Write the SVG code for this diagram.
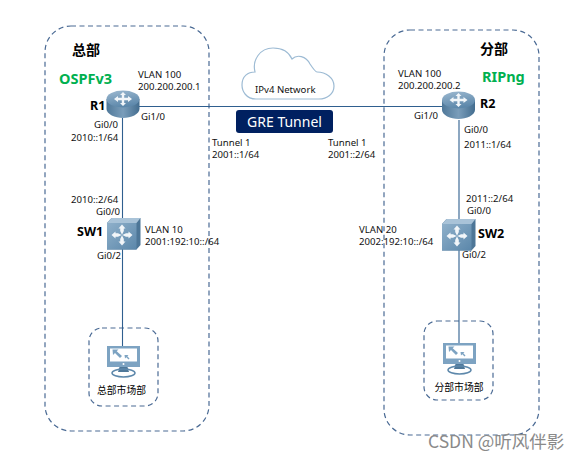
<svg xmlns="http://www.w3.org/2000/svg" width="581" height="460" viewBox="0 0 581 460">
<defs>
<linearGradient id="top" x1="0" y1="0" x2="0.3" y2="1"><stop offset="0" stop-color="#9db9d0"/><stop offset="1" stop-color="#5d88ab"/></linearGradient>
<linearGradient id="side" x1="0" y1="0" x2="1" y2="0"><stop offset="0" stop-color="#4f7899"/><stop offset="0.5" stop-color="#7a9dba"/><stop offset="1" stop-color="#436d8f"/></linearGradient>
<linearGradient id="sw" x1="0" y1="0" x2="1" y2="1"><stop offset="0" stop-color="#8fb0ca"/><stop offset="1" stop-color="#5b87aa"/></linearGradient>
<g id="router">
<path d="M-16.500,-5 V5 C-16.500,10 -8,14 0,14 C8,14 16.500,10 16.500,5 V-5 Z" fill="url(#side)"/>
<ellipse cx="0" cy="-5" rx="16.500" ry="8.500" fill="url(#top)"/>
<path d="M0,-12 L3,-9 H1.200 V-6.200 H5 V-8 L9,-5 L5,-2 V-3.800 H1.200 V-1 H3 L0,2 L-3,-1 H-1.200 V-3.800 H-5 V-2 L-9,-5 L-5,-8 V-6.200 H-1.200 V-9 H-3 Z" fill="#f2f6f9"/>
</g>
<g id="switch">
<path d="M-16.500,-11 L-12,-16 H17 V11 L13,15.500 H-16.500 Z" fill="#4d7697"/>
<path d="M-16.500,-11 L-12,-16 H17 L13,-11 Z" fill="#a9c3d8"/>
<rect x="-16.500" y="-11" width="29.500" height="26.500" fill="url(#sw)"/>
<path d="M-1.500,-9.500 L2,-5.500 H0.300 V-3 L-1.500,0.800 L-3.300,-3 V-5.500 H-5 Z M-1.500,11.500 L2,7.500 H0.300 V5 L-1.500,1.200 L-3.300,5 V7.500 H-5 Z M-12,1 L-8,-2.500 V-0.800 H-5.500 L-1.800,1 L-5.500,2.800 H-8 V4.500 Z M9,1 L5,-2.500 V-0.800 H2.500 L-1.200,1 L2.500,2.800 H5 V4.500 Z" fill="#f2f6f9"/>
</g>
<g id="pc">
<rect x="-16.500" y="0" width="33" height="21" fill="#7da3c2"/>
<rect x="-13.500" y="2.500" width="27" height="13" fill="#ffffff"/>
<path d="M-11,3.500 H-5 L-6.800,5.300 L-1.500,10 L-3.500,12 L-8.500,7 L-10.500,9 Z M1,9 H5 L3.800,10.200 L6,12.500 L5,13.500 L2.800,11.300 L1.500,12.500 Z" fill="#7da3c2"/>
<path d="M-4,21 H4 L5.500,26 H-5.500 Z" fill="#4f7899"/>
<ellipse cx="0" cy="27" rx="11.500" ry="4" fill="none" stroke="#5d88ab" stroke-width="1.500"/>
<circle cx="0" cy="18" r="1" fill="#fff"/>
</g>
</defs>
<style>
text{font-family:"Noto Sans","Liberation Sans","Noto Sans CJK SC",sans-serif;fill:#111;font-size:9.600px}
.zh{font-family:"Noto Sans CJK SC",sans-serif}
.head{font-size:14px;font-weight:700;fill:#000}
.name{font-size:12.500px;font-weight:700;fill:#000}
.proto{font-size:14.500px;font-weight:700;fill:#00b050}
.small{font-size:9.800px;fill:#000}
.zone{fill:none;stroke:#4a6a94;stroke-width:1.200;stroke-dasharray:5 3.500}
.link{fill:none;stroke:#2f5f8f;stroke-width:1.100}
</style>
<g id="zones">
<rect class="zone" x="45" y="26" width="164" height="405" rx="26"/>
<rect class="zone" x="384" y="30" width="155" height="405" rx="26"/>
<rect class="zone" x="89" y="328" width="69" height="78" rx="13"/>
<rect class="zone" x="424" y="321" width="69" height="79" rx="13"/>
</g>
<g id="connectors">
<path class="link" d="M139,106.500 H443"/>
<path class="link" d="M122.500,118 V346"/>
<path class="link" d="M459,120 V343"/>
</g>
<g id="cloud">
<path d="M256,99 C246,99 242,91 242,85 C242,76 248,72 255,72 C252,60 260,48 273,48 C282,48 289,52 292,59 C297,54 306,56 310,64 C312,67 316,72 317,72 C326,72 334,78 334,86 C334,94 327,99 319,99 Z" fill="#fff" stroke="#9dbbd4" stroke-width="1.200"/>
<text x="255" y="93">IPv4 Network</text>
</g>
<g id="gre-tunnel">
<rect x="236" y="110" width="97" height="23" rx="3" fill="#002060"/>
<text x="284.500" y="126.500" text-anchor="middle" style="font-size:14px;fill:#fff">GRE Tunnel</text>
</g>
<g id="r1">
<use href="#router" x="123" y="104"/>
<text class="name" x="90" y="110">R1</text>
<text class="proto" x="59" y="84">OSPFv3</text>
<text class="head zh" x="72" y="55">总部</text>
<text x="138" y="78">VLAN 100</text>
<text x="138" y="90">200.200.200.1</text>
<text x="141" y="120">Gi1/0</text>
<text x="94" y="128">Gi0/0</text>
<text x="71" y="141">2010::1/64</text>
</g>
<g id="r2">
<use href="#router" x="458.500" y="105"/>
<text class="name" x="480" y="108">R2</text>
<text class="proto" x="482" y="82">RIPng</text>
<text class="head zh" x="480" y="54">分部</text>
<text x="398" y="77">VLAN 100</text>
<text x="398" y="89">200.200.200.2</text>
<text x="414" y="119">Gi1/0</text>
<text x="464" y="133">Gi0/0</text>
<text x="464" y="148">2011::1/64</text>
</g>
<g id="tunnels">
<text x="212" y="146">Tunnel 1</text>
<text x="212" y="158">2001::1/64</text>
<text x="328" y="146">Tunnel 1</text>
<text x="328" y="158">2001::2/64</text>
</g>
<g id="sw1">
<use href="#switch" x="123.500" y="234"/>
<text class="name" x="77" y="236">SW1</text>
<text x="71" y="203">2010::2/64</text>
<text x="96" y="215">Gi0/0</text>
<text x="97" y="259">Gi0/2</text>
<text x="145" y="233">VLAN 10</text>
<text x="145" y="245">2001:192:10::/64</text>
</g>
<g id="sw2">
<use href="#switch" x="458.500" y="235"/>
<text class="name" x="478" y="238">SW2</text>
<text x="466" y="202">2011::2/64</text>
<text x="467" y="214">Gi0/0</text>
<text x="462" y="258">Gi0/2</text>
<text x="359" y="233">VLAN 20</text>
<text x="359" y="245">2002:192:10::/64</text>
</g>
<g id="pc1">
<use href="#pc" x="123.500" y="346"/>
<text class="small zh" x="121.500" y="394" text-anchor="middle">总部市场部</text>
</g>
<g id="pc2">
<use href="#pc" x="459.500" y="343"/>
<text class="small zh" x="459" y="391" text-anchor="middle">分部市场部</text>
</g>
<text x="428" y="448" style="font-size:17.500px;fill:#8a8a8a" class="zh">CSDN @听风伴影</text>
</svg>
